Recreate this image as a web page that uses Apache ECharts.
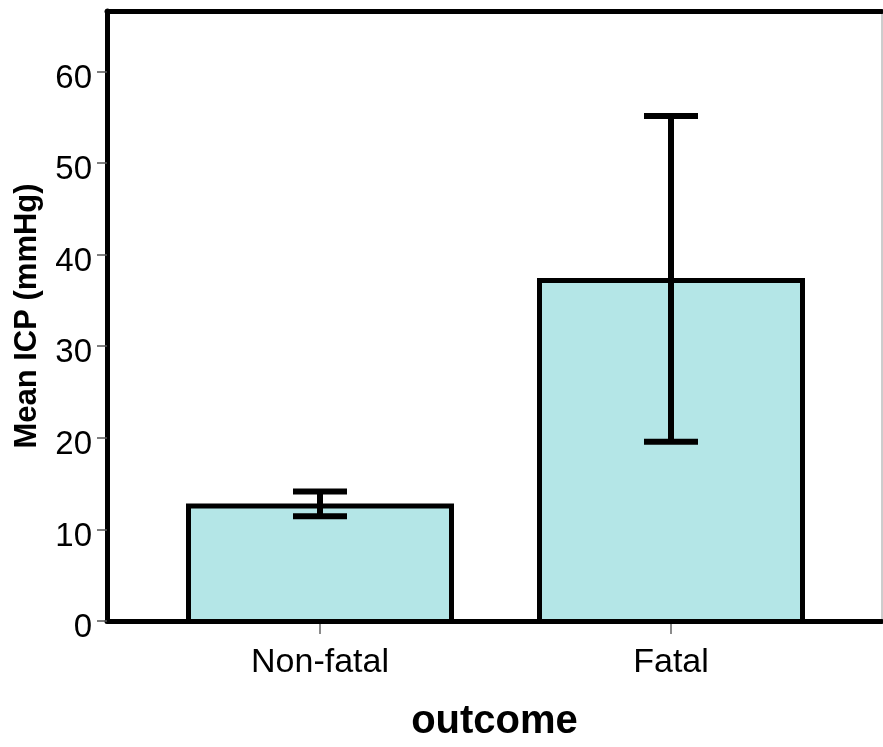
<!DOCTYPE html>
<html>
<head>
<meta charset="utf-8">
<script src="https://cdn.jsdelivr.net/npm/echarts@6/dist/echarts.min.js"></script>
<style>html,body{margin:0;padding:0;background:#fff}#c{width:883px;height:747px}</style>
</head>
<body>
<div id="c"></div>
<script>
var categories = ['Non-fatal', 'Fatal'];
var meanValues = [13.1, 37.6];
var ciLow = [11.7, 19.8];
var ciHigh = [14.4, 55.2];
var yTicks = [0, 10, 20, 30, 40, 50, 60];
var yMax = 66.6;

var FONT = 'Liberation Sans, Arial, sans-serif';
var chart = echarts.init(document.getElementById('c'), null, {renderer: 'canvas'});

var errData = categories.map(function (c, i) { return [i, ciLow[i], ciHigh[i]]; });

chart.setOption({
  backgroundColor: '#ffffff',
  animation: false,
  grid: [
    {left: 107, right: 1, top: 11, bottom: 123, show: true, borderColor: '#9a9a9a', borderWidth: 1, backgroundColor: 'transparent'},
    {left: 144.5, right: 36.5, top: 11, bottom: 123}
  ],
  xAxis: [
    {gridIndex: 0, type: 'value', min: 0, max: 1, position: 'bottom',
     axisLine: {show: true, lineStyle: {color: '#000', width: 5}},
     axisTick: {show: false}, axisLabel: {show: false}, splitLine: {show: false},
     name: 'outcome', nameLocation: 'middle', nameGap: 81,
     nameTextStyle: {fontFamily: FONT, fontSize: 40, fontWeight: 'bold', color: '#000'}},
    {gridIndex: 0, type: 'value', min: 0, max: 1, position: 'top',
     axisLine: {show: true, lineStyle: {color: '#000', width: 5}},
     axisTick: {show: false}, axisLabel: {show: false}, splitLine: {show: false}},
    {gridIndex: 1, type: 'category', data: categories, boundaryGap: true,
     axisLine: {show: false},
     axisTick: {show: true, alignWithLabel: true, length: 10, lineStyle: {color: '#666', width: 1.5}},
     axisLabel: {fontFamily: FONT, fontSize: 34, color: '#000', margin: 22},
     splitLine: {show: false}}
  ],
  yAxis: [
    {gridIndex: 0, type: 'value', min: 0, max: yMax, interval: 10,
     axisLine: {show: true, lineStyle: {color: '#000', width: 5}},
     axisTick: {show: true, length: 10, customValues: yTicks, lineStyle: {color: '#555', width: 1.5}},
     axisLabel: {fontFamily: FONT, fontSize: 33, color: '#000', margin: 15,
       customValues: yTicks, verticalAlign: 'top', lineHeight: 14},
     splitLine: {show: false},
     name: 'Mean ICP (mmHg)', nameLocation: 'middle', nameGap: 64,
     nameTextStyle: {fontFamily: FONT, fontSize: 31, fontWeight: 'bold', color: '#000'}},
    {gridIndex: 1, type: 'value', min: 0, max: yMax, interval: 10, show: false}
  ],
  series: [
    {type: 'bar', xAxisIndex: 2, yAxisIndex: 1, data: meanValues, barWidth: 268,
     itemStyle: {color: '#b4e6e7', borderColor: '#000', borderWidth: 5}, z: 2},
    {type: 'custom', xAxisIndex: 2, yAxisIndex: 1, data: errData, z: 5,
     renderItem: function (params, api) {
       var x = api.value(0);
       var lo = api.coord([x, api.value(1)]);
       var hi = api.coord([x, api.value(2)]);
       var hw = 27;
       var st = {stroke: '#000', lineWidth: 6};
       return {type: 'group', children: [
         {type: 'line', shape: {x1: lo[0], y1: lo[1], x2: hi[0], y2: hi[1]}, style: st},
         {type: 'line', shape: {x1: lo[0] - hw, y1: lo[1], x2: lo[0] + hw, y2: lo[1]}, style: st},
         {type: 'line', shape: {x1: hi[0] - hw, y1: hi[1], x2: hi[0] + hw, y2: hi[1]}, style: st}
       ]};
     }}
  ]
});
</script>
</body>
</html>
